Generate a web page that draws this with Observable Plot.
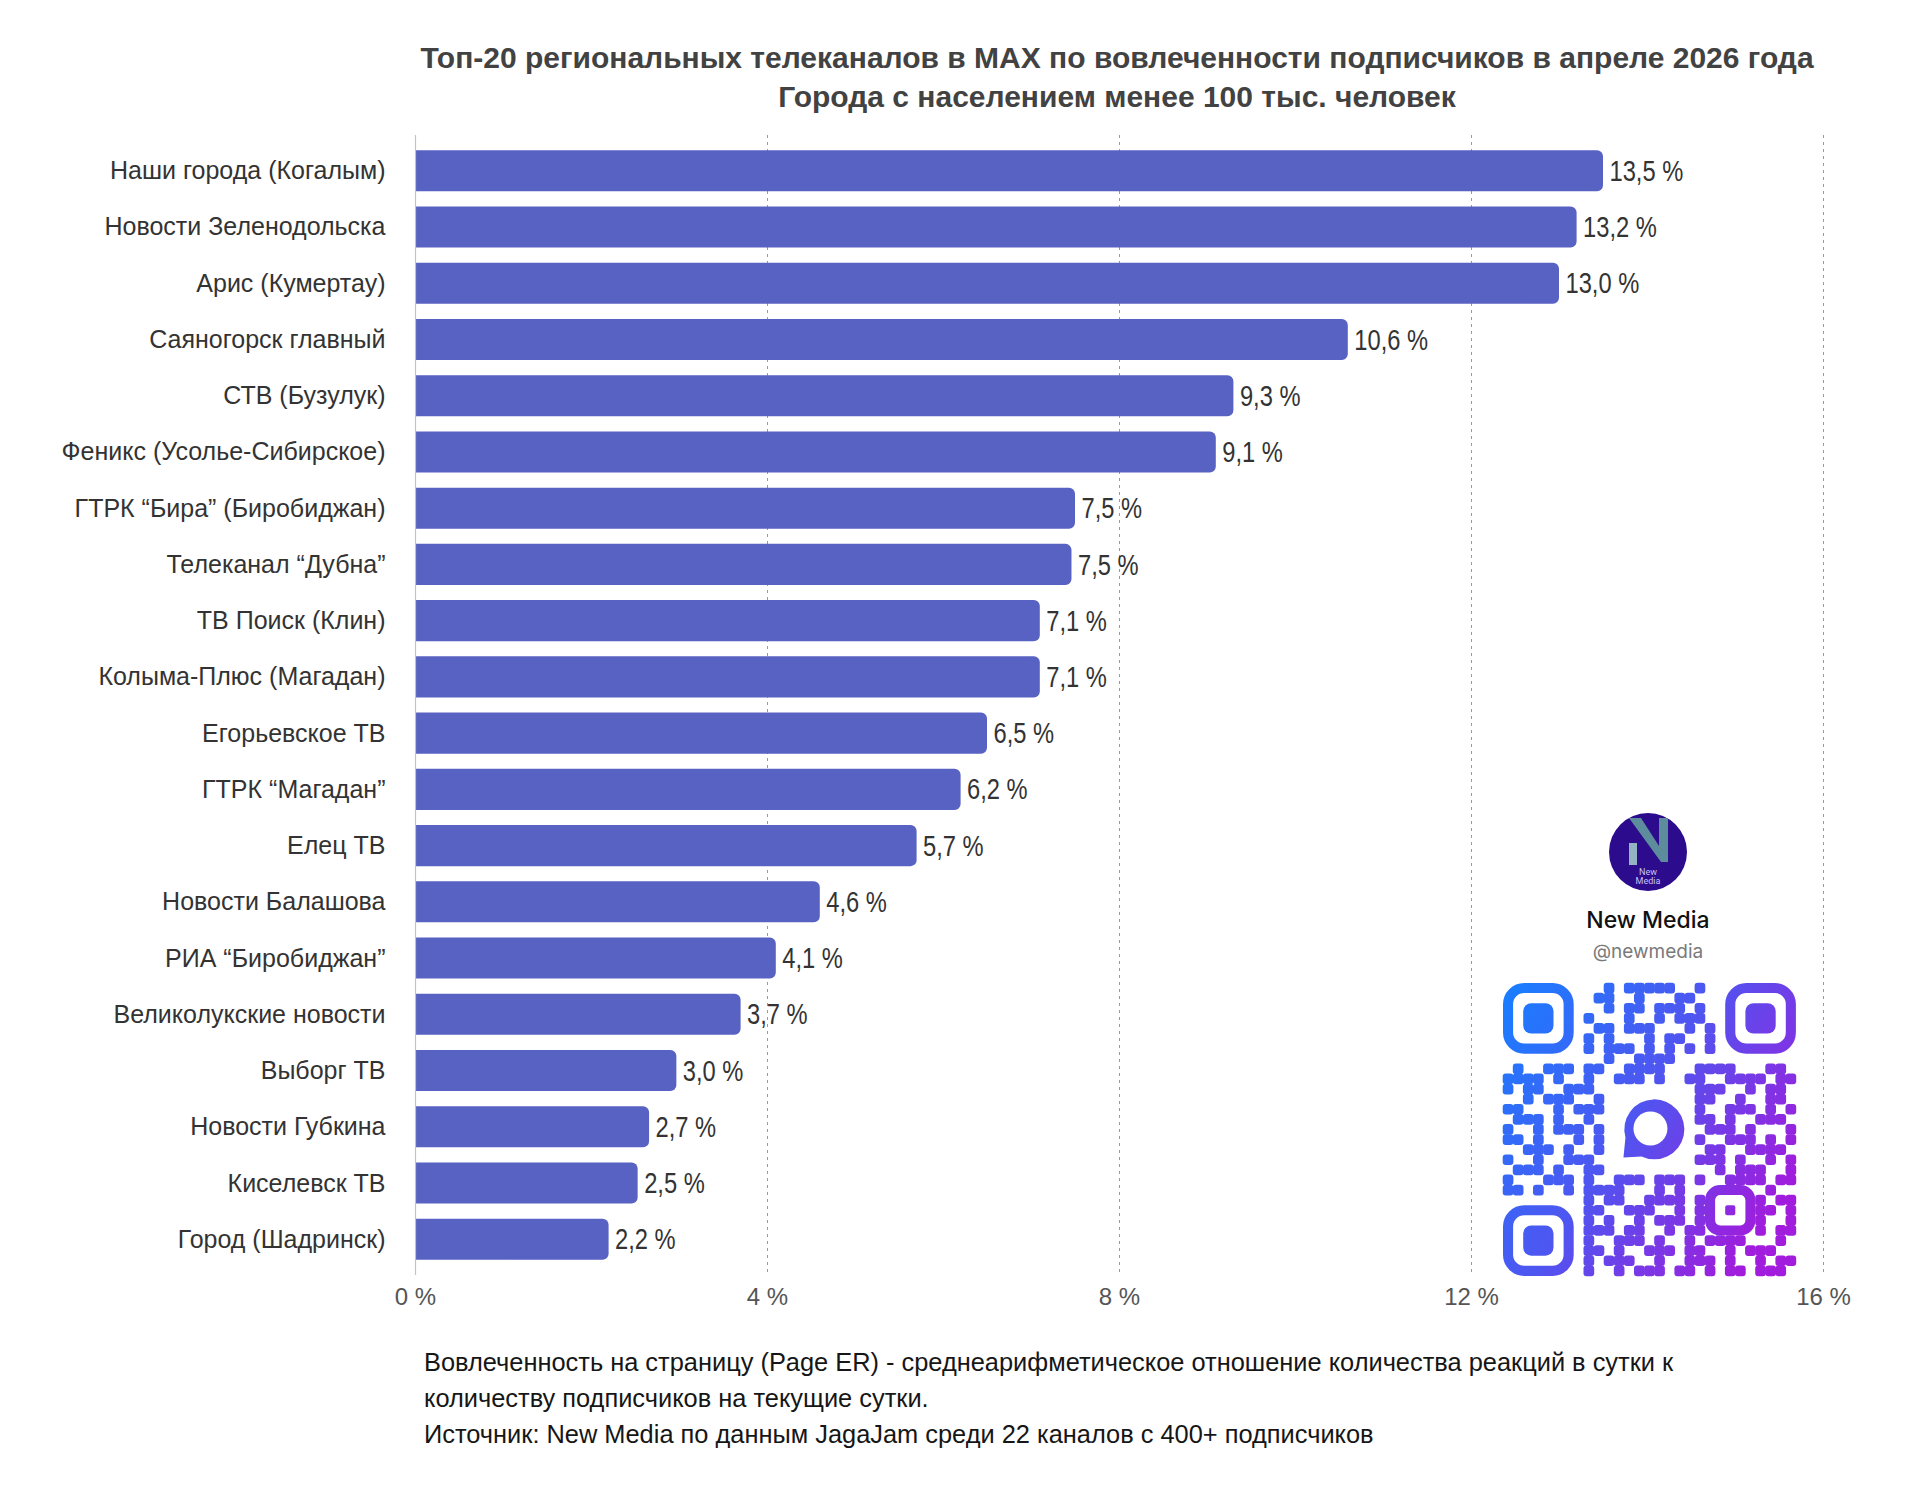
<!DOCTYPE html>
<html>
<head>
<meta charset="utf-8">
<script src="https://cdn.jsdelivr.net/npm/d3@7"></script>
<script src="https://cdn.jsdelivr.net/npm/@observablehq/plot@0.6"></script>
<style>
  html, body { margin: 0; padding: 0; background: #fff; }
  #page { position: relative; width: 1920px; height: 1500px; background: #fff; overflow: hidden; }
  #title { position: absolute; left: 314px; top: 38px; width: 1606px; text-align: center;
    font-family: "Liberation Sans", Arial, sans-serif; font-weight: bold; font-size: 30px;
    line-height: 39px; color: #424242; }
  #chart { position: absolute; left: 0; top: 120px; }
  #caption { position: absolute; left: 424px; top: 1344px; font-family: "Liberation Sans", Arial, sans-serif;
    font-size: 25.4px; line-height: 36px; color: #161616; }
  #overlay { position: absolute; left: 0; top: 0; }
</style>
</head>
<body>
<div id="page">
  <div id="title">Топ-20 региональных телеканалов в MAX по вовлеченности подписчиков в апреле 2026 года<br>Города с населением менее 100 тыс. человек</div>
  <div id="chart"></div>
  <div id="caption">Вовлеченность на страницу (Page ER) - среднеарифметическое отношение количества реакций в сутки к<br>количеству подписчиков на текущие сутки.<br>Источник: New Media по данным JagaJam среди 22 каналов с 400+ подписчиков</div>
</div>
<script>
// ---- data ----
const channels = [
  "Наши города (Когалым)",
  "Новости Зеленодольска",
  "Арис (Кумертау)",
  "Саяногорск главный",
  "СТВ (Бузулук)",
  "Феникс (Усолье-Сибирское)",
  "ГТРК “Бира” (Биробиджан)",
  "Телеканал “Дубна”",
  "ТВ Поиск (Клин)",
  "Колыма-Плюс (Магадан)",
  "Егорьевское ТВ",
  "ГТРК “Магадан”",
  "Елец ТВ",
  "Новости Балашова",
  "РИА “Биробиджан”",
  "Великолукские новости",
  "Выборг ТВ",
  "Новости Губкина",
  "Киселевск ТВ",
  "Город (Шадринск)"
];
const engagement = [13.5, 13.2, 13.0, 10.6, 9.3, 9.1, 7.5, 7.46, 7.1, 7.1, 6.5, 6.2, 5.7, 4.6, 4.1, 3.7, 2.97, 2.66, 2.53, 2.2];
const xTicks = [0, 4, 8, 12, 16];
const gridTicks = [4, 8, 12, 16];

const data = channels.map((name, i) => ({name, value: engagement[i]}));
const fmt = v => (Math.round(v * 10) / 10).toFixed(1).replace(".", ",") + " %";
const barColor = "#5862c2";

// rounded right corners only: use per-side radius when the library supports it
const ver = (Plot.version || "0.6.0").split(".").map(Number);
const perCorner = ver[0] > 0 || ver[1] > 6 || (ver[1] === 6 && ver[2] >= 12);
const barMarks = perCorner
  ? [Plot.barX(data, {x1: 0, x2: "value", y: "name", fill: barColor, rx2: 6})]
  : [Plot.barX(data, {x1: 0, x2: "value", y: "name", fill: barColor, rx: 6}),
     Plot.barX(data, {x1: 0, x2: d => d.value / 2, y: "name", fill: barColor, shapeRendering: "crispEdges"})];

const chart = Plot.plot({
  width: 1920,
  height: 1205,
  marginLeft: 415,
  marginRight: 97,
  marginTop: 15,
  marginBottom: 50,
  style: {fontFamily: "'Liberation Sans', Arial, sans-serif", background: "#fff"},
  x: {domain: [0, 16], axis: null},
  y: {domain: channels, padding: 0.27, round: false, axis: null},
  marks: [
    Plot.ruleX(gridTicks, {stroke: "#9a9a9a", strokeDasharray: "3,4", strokeWidth: 1}),
    ...barMarks,
    Plot.ruleX([0], {stroke: "#c4c4c4", strokeWidth: 1.2}),
    Plot.axisX({ticks: xTicks, tickFormat: d => d + " %", tickSize: 0, tickPadding: 12, fontSize: 24, color: "#555", anchor: "bottom", label: null}),
    Plot.axisY({tickSize: 0, tickPadding: 30, fontSize: 25, color: "#333", anchor: "left", label: null}),
    Plot.text(data, {x: "value", y: "name", text: d => fmt(d.value), dx: 6, textAnchor: "start",
      fontSize: 30, fontFamily: "'Liberation Sans', Arial, sans-serif", fill: "#333"})
  ]
});
document.getElementById("chart").appendChild(chart);

// condense the value labels horizontally (narrow face look), keeping them as real text
d3.select(chart).selectAll('g[aria-label="text"] text').each(function() {
  const t = this.getAttribute("transform") || "";
  const x = this.getAttribute("x");
  if (x !== null && !isNaN(+x)) {
    this.removeAttribute("x");
    this.setAttribute("transform", `${t} translate(${x},0) scale(0.79,1)`);
  } else {
    this.setAttribute("transform", `${t} scale(0.79,1)`);
  }
});

// ---- decorative logo + QR overlay ----
const qrRows = [
"..........#.#####..#.........",
".........##..#...##..........",
"..........#.##.###.#.........",
"........#...#..#.###.........",
".........##.###...#.#........",
"........#.#...#.##..#........",
"........#.###.#.#.#.#........",
"..........#..####............",
".#..###.##..####...####...##.",
"####.#..#..###.#..##..####.##",
"#.##..###..........###..#.##.",
"..#.###..#.........##..#..##.",
"##...#.###.........#..###.#.#",
".###.#..#..........##.#..###.",
"#..#.###.#..........###.#...#",
"##.#...#.#.........#..###.#.#",
"..###.#..#..........##..####.",
"#..#..###..........###.#..#.#",
".###.#..##...........#.###..#",
"#...###.#..###.###.#..####.##",
"##.#..#.####...#.#..#####.#..",
"........#.##..####.#.....#.##",
"........##..###..#.#.....##.#",
"........#.#..#.###.#.....#..#",
"........###.##..#.##.....#.##",
"........#..###.#..#.####...#.",
"........##.#..###.##..#.###..",
"........#.###..#..###.#..#.##",
"........#..#.###.##.#.##.###."
];

const svgNS = "http://www.w3.org/2000/svg";
const ov = d3.select("#page").append("svg").attr("id", "overlay")
  .attr("width", 1920).attr("height", 1500).attr("xmlns", svgNS);
const defs = ov.append("defs");
const grad = defs.append("linearGradient").attr("id", "qrg")
  .attr("gradientUnits", "userSpaceOnUse")
  .attr("x1", 1503).attr("y1", 1000).attr("x2", 1795).attr("y2", 1180);
grad.append("stop").attr("offset", "0").attr("stop-color", "#1a7dff");
grad.append("stop").attr("offset", "0.5").attr("stop-color", "#4f55f0");
grad.append("stop").attr("offset", "1").attr("stop-color", "#a11cdc");

// logo
const lg = ov.append("g");
lg.append("circle").attr("cx", 1648).attr("cy", 852).attr("r", 39).attr("fill", "#2c0b8c");
lg.append("rect").attr("x", 1629).attr("y", 843).attr("width", 8).attr("height", 22).attr("fill", "#93b3c2");
lg.append("path").attr("d", "M1629,818 L1641,818 L1659,846 L1659,818 L1668,818 L1668,862 L1661,862 Z").attr("fill", "#5d8c9c");
lg.append("text").attr("x", 1648).attr("y", 875).attr("text-anchor", "middle")
  .attr("font-family", "Roboto, sans-serif").attr("font-size", 9).attr("fill", "#c9c2f5").text("New");
lg.append("text").attr("x", 1648).attr("y", 884).attr("text-anchor", "middle")
  .attr("font-family", "Roboto, sans-serif").attr("font-size", 9).attr("fill", "#c9c2f5").text("Media");
ov.append("text").attr("x", 1648).attr("y", 928).attr("text-anchor", "middle")
  .attr("font-family", "Inter, Roboto, sans-serif").attr("font-weight", 500).attr("font-size", 23)
  .attr("fill", "#111").text("New Media");
ov.append("text").attr("x", 1648).attr("y", 958).attr("text-anchor", "middle")
  .attr("font-family", "Inter, Roboto, sans-serif").attr("font-size", 19)
  .attr("fill", "#7a7a7a").text("@newmedia");

// QR
const qx = 1503, qy = 983, m = 10.1, N = 29;
const qg = ov.append("g").attr("fill", "url(#qrg)");
const inFinder = (r, c) => (r < 8 && c < 8) || (r < 8 && c > N - 9) || (r > N - 9 && c < 8);
const inCenter = (r, c) => r >= 10 && r <= 18 && c >= 10 && c <= 18;
const inAlign = (r, c) => r >= 20 && r <= 24 && c >= 20 && c <= 24;
qrRows.forEach((row, r) => {
  const s = row.padEnd(N, ".").slice(0, N);
  for (let c = 0; c < N; c++) {
    if (s[c] !== "#" || inFinder(r, c) || inCenter(r, c) || inAlign(r, c)) continue;
    qg.append("rect").attr("x", qx + c * m - 0.3).attr("y", qy + r * m - 0.3)
      .attr("width", m + 0.6).attr("height", m + 0.6).attr("rx", 3);
  }
});
[[0, 0], [0, N - 7], [N - 7, 0]].forEach(([r, c]) => {
  const x = qx + c * m, y = qy + r * m;
  qg.append("rect").attr("x", x + m / 2).attr("y", y + m / 2).attr("width", 6 * m).attr("height", 6 * m)
    .attr("rx", 1.6 * m).attr("fill", "none").attr("stroke", "url(#qrg)").attr("stroke-width", m);
  qg.append("rect").attr("x", x + 2 * m).attr("y", y + 2 * m).attr("width", 3 * m).attr("height", 3 * m).attr("rx", 0.8 * m);
});
{
  const x = qx + 20 * m, y = qy + 20 * m;
  qg.append("rect").attr("x", x + m / 2).attr("y", y + m / 2).attr("width", 4 * m).attr("height", 4 * m)
    .attr("rx", 1 * m).attr("fill", "none").attr("stroke", "url(#qrg)").attr("stroke-width", m);
  qg.append("rect").attr("x", x + 2 * m).attr("y", y + 2 * m).attr("width", m).attr("height", m).attr("rx", 2);
}
// MAX bubble in the center
{
  const cx = qx + 14.5 * m, cy = qy + 14.5 * m;
  qg.append("path")
    .attr("d", `M${cx - 26},${cy + 28} L${cx - 24},${cy + 8} A30,30 0 1,1 ${cx - 8},${cy + 27} Z`);
  ov.append("circle").attr("cx", cx + 1).attr("cy", cy - 1).attr("r", 17).attr("fill", "#fff");
}
</script>
</body>
</html>
